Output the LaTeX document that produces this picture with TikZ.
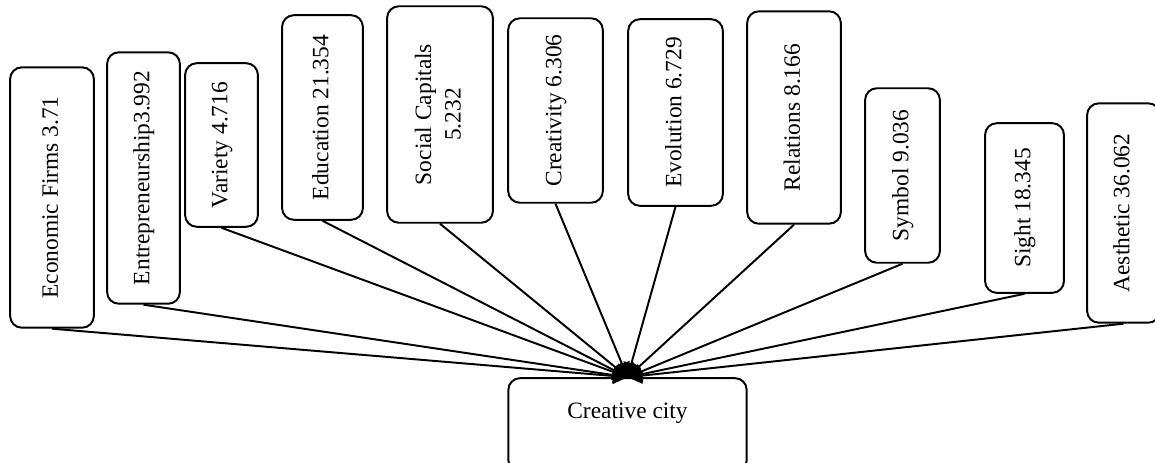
\documentclass[tikz,border=0pt]{standalone}
\usepackage{fontspec}
\setmainfont{Liberation Serif}
\usepackage{graphicx}
\usetikzlibrary{arrows}
\newcommand{\factorlabel}[1]{\rotatebox{90}{\begin{tabular}{@{}c@{}}#1\end{tabular}}}

\begin{document}
\begin{tikzpicture}[x = 0.018cm, y = -0.018cm, every node/.style = {rectangle, rounded corners = 6pt, draw = black, line width = 1pt, inner sep = 0pt, font = \fontsize{12}{15}\selectfont}]
	\useasboundingbox (0, 0) rectangle (1155, 462);

	\node (EF) at (52, 197.5) [minimum width = 42.9pt, minimum height = 133.4pt] {\factorlabel{Economic Firms 3.71}};
	\node (EN) at (143.5, 178) [minimum width = 37.3pt, minimum height = 128.8pt] {\factorlabel{Entrepreneurship3.992}};
	\node (VA) at (221.5, 145) [minimum width = 37.3pt, minimum height = 83.8pt] {\factorlabel{Variety 4.716}};
	\node (ED) at (322.5, 117.5) [minimum width = 41.4pt, minimum height = 104.8pt] {\factorlabel{Education 21.354}};
	\node (SC) at (440, 114.5) [minimum width = 54.2pt, minimum height = 110.9pt] {\factorlabel{Social Capitals \\ 5.232}};
	\node (CR) at (555.5, 110.5) [minimum width = 48.5pt, minimum height = 94.5pt] {\factorlabel{Creativity 6.306}};
	\node (EV) at (675.5, 112.5) [minimum width = 48.5pt, minimum height = 95.6pt] {\factorlabel{Evolution 6.729}};
	\node (RE) at (794, 117.5) [minimum width = 48pt, minimum height = 108.8pt] {\factorlabel{Relations 8.166}};
	\node (SY) at (902.5, 175.5) [minimum width = 38.3pt, minimum height = 89.4pt] {\factorlabel{Symbol 9.036}};
	\node (SI) at (1024.5, 208) [minimum width = 40.4pt, minimum height = 86.9pt] {\factorlabel{Sight 18.345}};
	\node (AE) at (1123.5, 213) [minimum width = 37.3pt, minimum height = 112.4pt] {\factorlabel{Aesthetic 36.062}};

	\node (CC) at (627.5, 425) [align = center, minimum width = 122.1pt, minimum height = 48pt] {Creative city \\ ~};

	\foreach \from in {EF, EN, VA, ED, SC, CR, EV, RE, SY, SI, AE}
		\draw [-triangle 60, line width = 1pt] (\from.south) -- (CC.north);
\end{tikzpicture}
\end{document}
